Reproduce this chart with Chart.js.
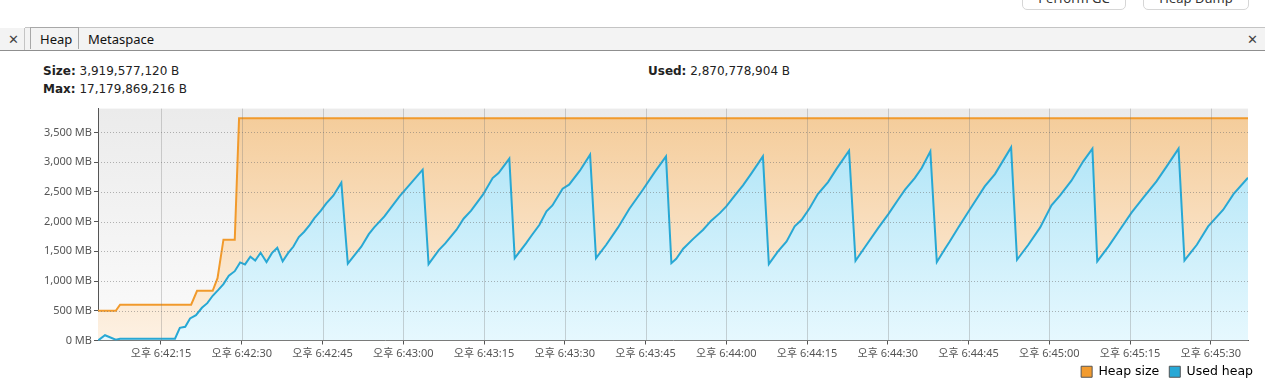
<!DOCTYPE html>
<html lang="ko">
<head>
<meta charset="UTF-8">
<title>Heap</title>
<script src="https://cdn.jsdelivr.net/npm/chart.js"></script>
<style>
  body { margin: 0; width: 1265px; height: 382px; overflow: hidden; background: #fff;
         font-family: "Noto Sans", "Noto Sans CJK KR", sans-serif; position: relative; color: #222; }
  .btn { position: absolute; top: -13px; height: 21px; border: 1px solid #d6d6d6; border-radius: 5px;
         background: #fff; font-size: 13px; line-height: 21px; text-align: center; color: #333; }
  .tabbar { position: absolute; left: 0; top: 28px; width: 1265px; height: 22px; background: #f3f3f3;
            border-bottom: 1px solid #8f8f8f; }
  .tabbar .line { position: absolute; left: 25px; right: 0; top: -1px; border-top: 1px solid #c4c4c4; }
  .tabbar .sep { position: absolute; left: 24px; top: 0; height: 22px; border-left: 1px solid #c4c4c4; }
  .close { position: absolute; top: 2px; font-size: 13px; color: #444; }
  .tab { position: absolute; top: 0; height: 22px; line-height: 22px; font-size: 13px; color: #111; }
  .tab.active { left: 30px; width: 49px; border-left: 1px solid #a8a8a8; border-right: 1px solid #a8a8a8;
                border-top: 1px solid #a8a8a8; top: -1px; box-sizing: border-box; padding-left: 9px; }
  .info { position: absolute; font-family: "DejaVu Sans", sans-serif; font-size: 12px; white-space: nowrap; }
  .info b { font-weight: bold; }
  #wrap { position: absolute; left: 0; top: 100px; width: 1265px; height: 293px; }
</style>
</head>
<body>
  <div class="btn" style="left:1022px;width:102px;">Perform GC</div>
  <div class="btn" style="left:1143px;width:104px;">Heap Dump</div>

  <div class="tabbar">
    <div class="line"></div>
    <div class="sep"></div>
    <span class="close" style="left:8px;">&#x2715;</span>
    <div class="tab active">Heap</div>
    <div class="tab" style="left:88px;">Metaspace</div>
    <span class="close" style="left:1247px;">&#x2715;</span>
  </div>

  <div class="info" style="left:43px;top:64px;"><b>Size:</b> 3,919,577,120 B</div>
  <div class="info" style="left:43px;top:82px;"><b>Max:</b> 17,179,869,216 B</div>
  <div class="info" style="left:648px;top:64px;"><b>Used:</b> 2,870,778,904 B</div>

  <div id="wrap"><canvas id="heapChart"></canvas></div>

<script>
// seconds after 6:42:00 PM
const sizeTimes = [3.3, 6.6, 7.4, 20.6, 21.7, 24.6, 25.5, 26.6, 28.7, 29.5, 216.9];
const sizeMB = [500, 500, 601, 601, 836, 836, 1049, 1695, 1695, 3738, 3738];

const usedTimes = [3.3, 4.6, 6.6, 7.4,
  17.6, 18.5, 19.5, 20.4, 21.5, 22.6, 23.6, 24.6, 25.6, 26.6, 27.6, 28.7, 29.7,
  30.6, 31.6, 32.5, 33.5, 34.6, 35.6, 36.6, 37.6, 38.6, 39.6,
  40.6, 41.6, 42.6, 43.5, 44.7, 45.7, 47.0, 48.5,
  49.7, 52.2, 53.6, 54.6, 56.5, 59.3, 61.6, 63.6,
  64.7, 66.6, 67.8, 69.9, 71.2, 72.6, 74.8, 76.6, 77.7, 79.7,
  80.7, 82.8, 83.8, 85.3, 86.6, 87.7, 89.6, 90.8, 92.8, 94.7,
  95.8, 97.7, 99.9, 102.0, 104.5, 106.7, 108.8,
  109.8, 110.7, 112.0, 113.8, 115.7, 117.2, 118.8, 120.0, 121.6, 123.1, 124.7, 126.8,
  127.9, 129.6, 131.2, 132.7, 134.0, 135.5, 137.0, 138.9, 140.5, 142.8,
  144.0, 145.7, 148.2, 150.1, 151.9, 153.2, 155.0, 156.3, 157.9,
  159.1, 160.6, 161.5, 163.1, 165.2, 168.0, 169.9, 172.9,
  174.0, 176.1, 178.3, 180.4, 182.0, 184.1, 186.3, 188.0,
  188.9, 191.0, 193.1, 195.3, 197.5, 199.9, 201.8, 204.0,
  205.1, 207.4, 209.5, 212.3, 214.2, 216.9];
const usedMB = [0, 89, 12, 29,
  29, 214, 231, 370, 426, 550, 628, 752, 847, 948, 1089, 1166, 1313,
  1279, 1408, 1346, 1476, 1318, 1469, 1560, 1330, 1469, 1580,
  1740, 1829, 1940, 2058, 2183, 2306, 2435, 2654,
  1291, 1577, 1789, 1902, 2087, 2424, 2664, 2873,
  1284, 1520, 1633, 1863, 2048, 2183, 2452, 2732, 2816, 3058,
  1385, 1633, 1762, 1947, 2171, 2272, 2553, 2620, 2856, 3125,
  1385, 1610, 1902, 2216, 2536, 2832, 3097,
  1301, 1375, 1543, 1705, 1863, 2015, 2142, 2255, 2440, 2609, 2816, 3097,
  1284, 1498, 1666, 1919, 2031, 2227, 2462, 2664, 2890, 3193,
  1341, 1565, 1890, 2126, 2368, 2536, 2732, 2900, 3181,
  1318, 1540, 1666, 1902, 2199, 2592, 2799, 3248,
  1358, 1610, 1902, 2272, 2440, 2688, 3013, 3226,
  1330, 1582, 1863, 2154, 2407, 2676, 2928, 3226,
  1346, 1610, 1919, 2199, 2462, 2738];

const timeTicks = [15, 30, 45, 60, 75, 90, 105, 120, 135, 150, 165, 180, 195, 210];
const mbTicks = [0, 500, 1000, 1500, 2000, 2500, 3000, 3500];

function timeLabel(s) {
  const m = 42 + Math.floor(s / 60);
  const sec = String(Math.round(s % 60)).padStart(2, '0');
  return '오후 6:' + m + ':' + sec;
}

function vGradient(ctx, top, bottom) {
  const area = ctx.chart.chartArea;
  if (!area) return top;
  const g = ctx.chart.ctx.createLinearGradient(0, area.top, 0, area.bottom);
  g.addColorStop(0, top);
  g.addColorStop(1, bottom);
  return g;
}

const plotBackground = {
  id: 'plotBackground',
  beforeDraw(chart) {
    const { ctx, chartArea: a } = chart;
    const g = ctx.createLinearGradient(0, a.top, 0, a.bottom);
    g.addColorStop(0, '#ebebeb');
    g.addColorStop(1, '#fbfbfb');
    ctx.save();
    ctx.fillStyle = g;
    ctx.fillRect(a.left, a.top, a.right - a.left, a.bottom - a.top);
    ctx.restore();
  }
};

// grid lines show through the filled areas, so draw them after the datasets
const gridOverlay = {
  id: 'gridOverlay',
  afterDatasetsDraw(chart) {
    const { ctx, chartArea: a, scales } = chart;
    ctx.save();
    ctx.lineWidth = 1;
    ctx.strokeStyle = 'rgba(120,120,120,0.32)';
    scales.x.ticks.forEach(t => {
      const px = Math.round(scales.x.getPixelForValue(t.value)) + 0.5;
      ctx.beginPath(); ctx.moveTo(px, a.top); ctx.lineTo(px, a.bottom); ctx.stroke();
    });
    ctx.strokeStyle = 'rgba(110,110,110,0.5)';
    ctx.setLineDash([1, 2]);
    scales.y.ticks.forEach(t => {
      if (t.value === 0) return;
      const py = Math.round(scales.y.getPixelForValue(t.value)) + 0.5;
      ctx.beginPath(); ctx.moveTo(a.left, py); ctx.lineTo(a.right, py); ctx.stroke();
    });
    ctx.restore();
  }
};

// legend sits a little further right (and higher) than its layout box
const legendShift = {
  id: 'legendShift',
  afterLayout(chart) {
    const lg = chart.legend;
    lg.left += 15; lg.right += 15;
    lg.top -= 5; lg.bottom -= 5;
  }
};

const tickFont = { family: '"Noto Sans", "Noto Sans CJK KR", sans-serif', size: 11 };

new Chart(document.getElementById('heapChart'), {
  type: 'line',
  data: {
    datasets: [{
      label: 'Used heap',
      data: usedTimes.map((t, i) => ({ x: t, y: usedMB[i] })),
      borderColor: '#28a8d4',
      borderWidth: 2,
      backgroundColor: c => vGradient(c, '#a9e2f6', '#e6f8fe'),
      fill: 'origin',
      pointRadius: 0,
      tension: 0
    }, {
      label: 'Heap size',
      data: sizeTimes.map((t, i) => ({ x: t, y: sizeMB[i] })),
      borderColor: '#f19a2c',
      borderWidth: 2,
      backgroundColor: c => vGradient(c, '#f4cb98', '#fdf1e3'),
      fill: 'origin',
      pointRadius: 0,
      tension: 0
    }]
  },
  options: {
    responsive: true,
    maintainAspectRatio: false,
    animation: false,
    layout: { padding: { left: 0, right: 17, top: 7, bottom: 0 } },
    plugins: {
      tooltip: { enabled: false },
      legend: {
        position: 'bottom',
        align: 'end',
        reverse: true,
        labels: {
          boxWidth: 11,
          boxHeight: 11,
          padding: 10,
          color: '#111',
          font: { family: '"DejaVu Sans", sans-serif', size: 12.5 },
          generateLabels: chart => chart.data.datasets.map((d, i) => ({
            text: d.label,
            fillStyle: i === 0 ? '#27a8d6' : '#f29b2e',
            strokeStyle: '#555',
            lineWidth: 1,
            datasetIndex: i
          }))
        }
      }
    },
    scales: {
      x: {
        type: 'linear',
        min: 3.3,
        max: 216.9,
        afterBuildTicks: s => { s.ticks = timeTicks.map(v => ({ value: v })); },
        afterFit: s => { s.height = 20; },
        grid: { drawOnChartArea: false, tickLength: 4, tickColor: '#555' },
        border: { color: '#555', width: 1 },
        ticks: { color: '#555', font: tickFont, padding: 3, maxRotation: 0, autoSkip: false,
                 callback: v => timeLabel(v) }
      },
      y: {
        min: 0,
        max: 3900,
        afterBuildTicks: s => { s.ticks = mbTicks.map(v => ({ value: v })); },
        afterFit: s => { s.width = 98; },
        grid: { drawOnChartArea: false, tickLength: 4, tickColor: '#555' },
        border: { color: '#555', width: 1 },
        ticks: { color: '#555', font: tickFont, padding: 2,
                 callback: v => v.toLocaleString('en-US') + ' MB' }
      }
    }
  },
  plugins: [plotBackground, gridOverlay, legendShift]
});
</script>
</body>
</html>
